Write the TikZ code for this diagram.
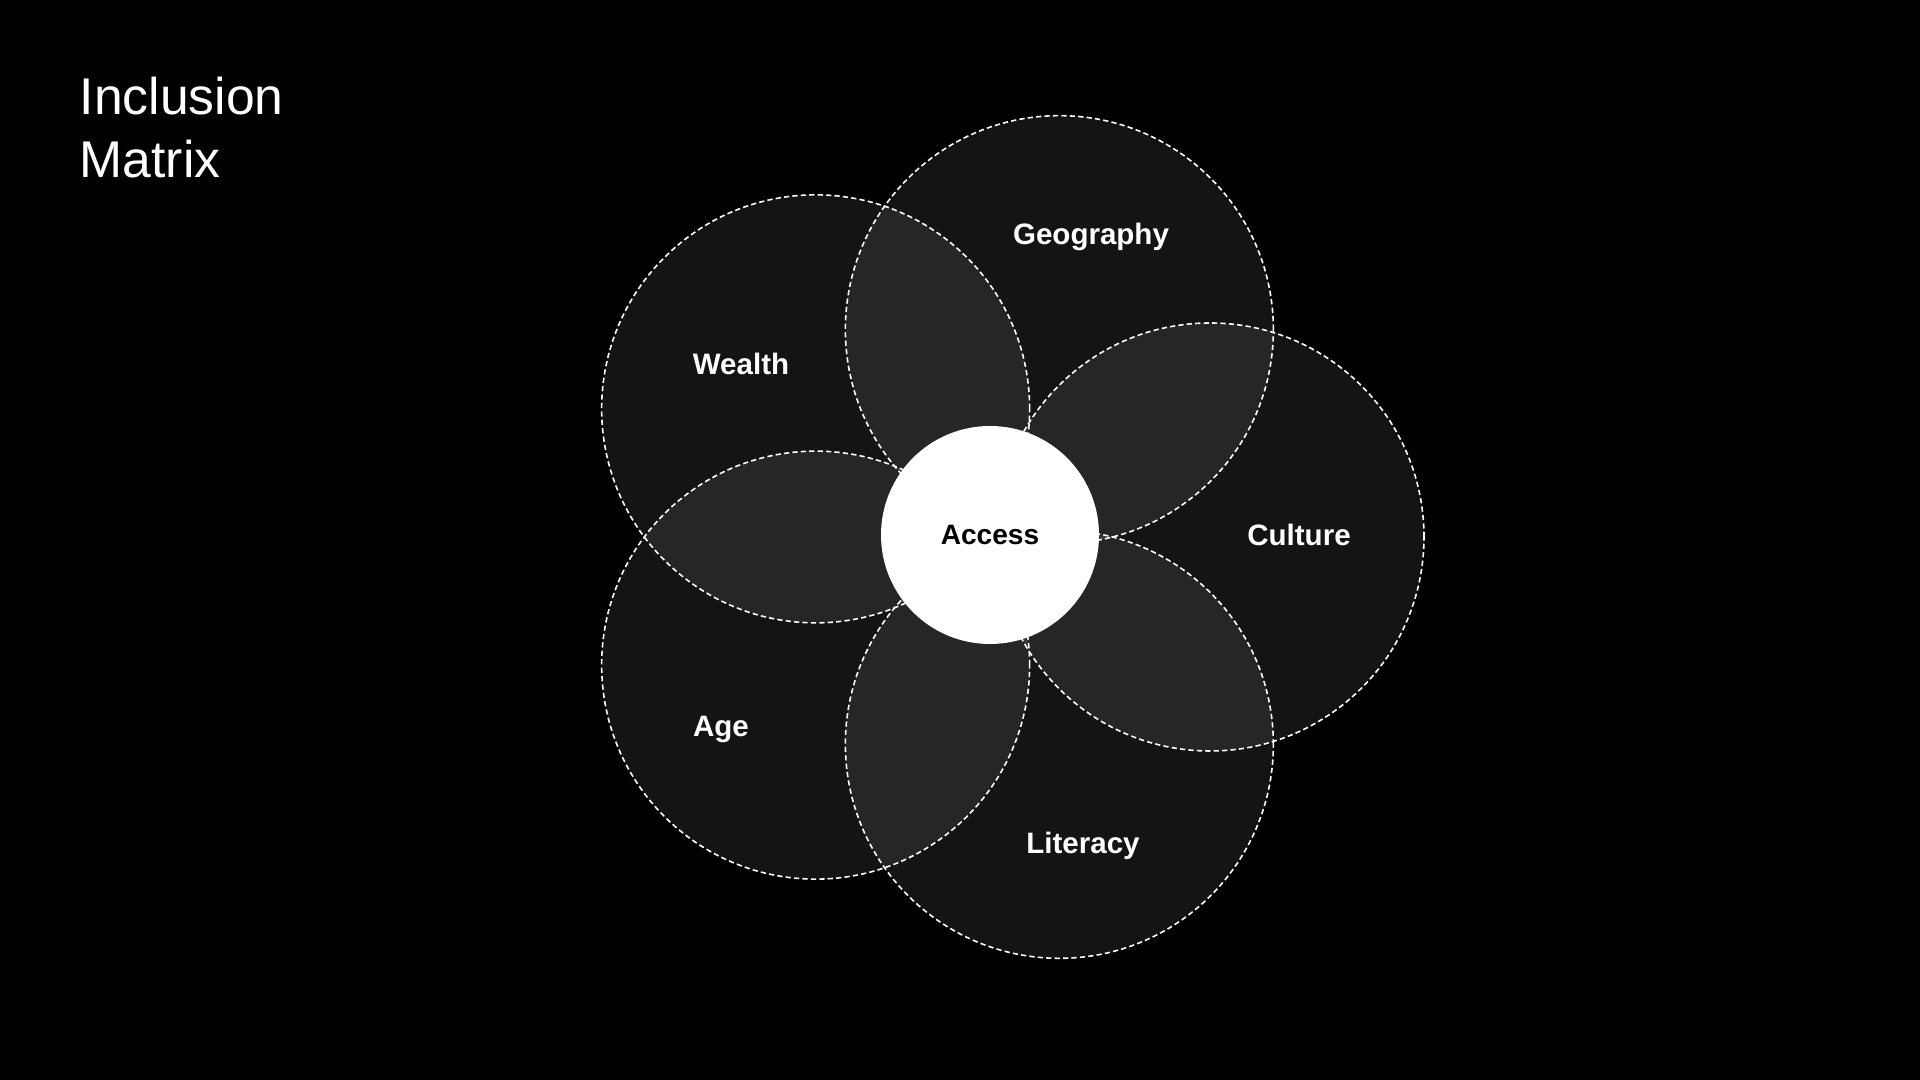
\documentclass[tikz,border=0pt]{standalone}
\usepackage{fontspec}
\setmainfont{Liberation Sans}
\begin{document}
\begin{tikzpicture}[
    petal/.style={circle, minimum size=4.28cm, inner sep=0pt, fill=white, fill opacity=0.08,
      draw=white, draw opacity=1, line width=0.45pt, dash pattern=on 1.5pt off 0.9pt},
    tag/.style={text=white, font=\fontsize{8.4}{10}\selectfont\bfseries},
    title/.style={text=white, anchor=base west, inner sep=0pt, font=\fontsize{14.7}{18}\selectfont}]
    % background and frame
    \fill[black] (0,0) rectangle (19.2,10.8);
    \useasboundingbox (0,0) rectangle (19.2,10.8);

    % Title
    \node[title] (t1) at (0.79,9.65) {Inclusion};
    \node[title] (t2) at (0.79,9.02) {Matrix};

    % Petals
    \coordinate (hub) at (9.92,5.43);
    \foreach \ang/\name in {0/culture, 72/geo, 144/wealth, 216/age, 288/literacy}
      \node[petal] (\name) at ([shift={(\ang:2.18)}]hub) {};

    % Labels
    \node[tag] (geo-l) at (10.91,8.43) {Geography};
    \node[tag] (wealth-l) at (7.41,7.16) {Wealth};
    \node[tag] (culture-l) at (12.99,5.45) {Culture};
    \node[tag] (literacy-l) at (10.83,2.34) {Literacy};
    \node[tag] (age-l) at (7.21,3.51) {Age};

    % Centre
    \node[circle, fill=white, minimum size=2.18cm, inner sep=0pt, text=black,
      font=\fontsize{8}{10}\selectfont\bfseries] (access) at (9.9,5.45) {Access};
  \end{tikzpicture}
\end{document}
